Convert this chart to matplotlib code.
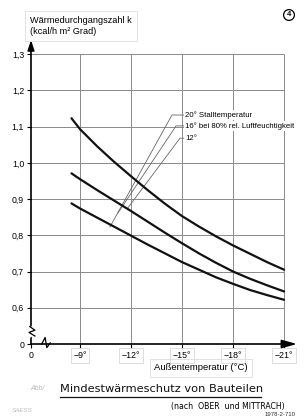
import matplotlib
matplotlib.use("Agg")
import matplotlib.pyplot as plt

# --------------------------------------------------
# Daten
# --------------------------------------------------
aussen_temp = [-8.5, -9, -10, -11, -12, -13, -14, -15, -16, -17, -18, -19, -20, -21]

# 12° Stalltemperatur (obere Kurve)
k_12 = [1.123, 1.093, 1.046, 1.003, 0.963, 0.924, 0.887, 0.853,
        0.824, 0.797, 0.772, 0.749, 0.726, 0.705]
# 16° bei 80 % rel. Luftfeuchtigkeit (mittlere Kurve)
k_16 = [0.971, 0.955, 0.925, 0.896, 0.867, 0.837, 0.807, 0.778,
        0.750, 0.724, 0.700, 0.680, 0.662, 0.645]
# 20° Stalltemperatur (untere Kurve)
k_20 = [0.888, 0.874, 0.849, 0.824, 0.799, 0.774, 0.750, 0.726,
        0.705, 0.684, 0.666, 0.649, 0.635, 0.622]

x_ticks = [-9, -12, -15, -18, -21]
x_labels = ["\u22129\u00b0", "\u221212\u00b0", "\u221215\u00b0", "\u221218\u00b0", "\u221221\u00b0"]
y_ticks = [0.6, 0.7, 0.8, 0.9, 1.0, 1.1, 1.2, 1.3]
y_labels = ["0,6", "0,7", "0,8", "0,9", "1,0", "1,1", "1,2", "1,3"]

# Achsenbruch: die "0" sitzt nicht maßstäblich
x_zero = -6.12
y_zero = 0.5

plt.rcParams["font.family"] = ["Liberation Sans", "DejaVu Sans"]

fig = plt.figure(figsize=(3.06, 4.2), dpi=100)
fig.patch.set_facecolor("white")
ax = fig.add_axes([31 / 306, 1 - 344 / 420, 266 / 306, 304 / 420])
ax.set_xlim(x_zero, -21.76)
ax.set_ylim(y_zero, 1.339)
for s in ax.spines.values():
    s.set_visible(False)

# Gitter
grid_c = "#8a8a8a"
ax.hlines(y_ticks, x_zero, -21, color=grid_c, lw=0.7, zorder=1)
ax.vlines(x_ticks, y_zero, 1.3, color=grid_c, lw=0.7, zorder=1)

# Kurven
for k in [k_12, k_16, k_20]:
    ax.plot(aussen_temp, k, color="#111111", lw=1.6, solid_capstyle="round", zorder=3)

# Achsen mit Pfeilen
ax.annotate("", xy=(0, 1), xytext=(0, 0), xycoords="axes fraction",
            arrowprops=dict(arrowstyle="-|>,head_length=0.6,head_width=0.2",
                            color="black", lw=1.2, shrinkA=0, shrinkB=0))
ax.annotate("", xy=(1, 0), xytext=(0, 0), xycoords="axes fraction",
            arrowprops=dict(arrowstyle="-|>,head_length=0.9,head_width=0.25",
                            color="black", lw=1.2, shrinkA=0, shrinkB=0))

# Bruchzeichen
ax.plot([-6.0, -6.3, -5.95, -6.25], [0.522, 0.530, 0.536, 0.545],
        color="white", lw=3, zorder=4, clip_on=False)
ax.plot([-6.35, -6.0, -6.35, -6.05], [0.522, 0.532, 0.538, 0.548],
        color="black", lw=0.9, zorder=5, clip_on=False)
ax.plot([-6.75, -6.95, -7.05, -7.25], [0.5, 0.518, 0.49, 0.503],
        color="black", lw=0.9, zorder=5, clip_on=False)

# Ticks
ax.set_yticks([y_zero] + y_ticks)
ax.set_yticklabels(["0"] + y_labels)
ax.set_xticks([x_zero] + x_ticks)
ax.set_xticklabels(["0"] + x_labels)
ax.tick_params(axis="both", length=3, width=0.8, labelsize=6.3, pad=2, colors="black")
for lab in ax.get_xticklabels()[1:]:
    lab.set_bbox(dict(boxstyle="square,pad=0.3", fc="none", ec="#d8d8d8", lw=0.6))

# Achsentitel
fig.text(30 / 306, 1 - 26 / 420, "Wärmedurchgangszahl k\n(kcal/h m² Grad)",
         fontsize=6.6, va="center", ha="left", linespacing=1.25,
         bbox=dict(boxstyle="square,pad=0.55", fc="none", ec="#dddddd", lw=0.6))
fig.text(201 / 306, 1 - 368 / 420, "Außentemperatur (°C)", fontsize=6.8,
         ha="center", va="center",
         bbox=dict(boxstyle="square,pad=0.45", fc="none", ec="#dddddd", lw=0.6))

# Beschriftung der Kurven mit Hinweislinien
leader_c = "#666666"
leaders = [
    ("20\u00b0 Stalltemperatur", 1.132, -14.41, (-10.76, 0.823)),
    ("16\u00b0 bei 80% rel. Luftfeuchtigkeit", 1.102, -14.65, (-11.24, 0.862)),
    ("12\u00b0", 1.068, -14.88, (-11.79, 0.874)),
]
for text, ly, lx, (ex, ey) in leaders:
    ax.plot([ex, lx, -15.1], [ey, ly, ly], color=leader_c, lw=0.6, zorder=2)
    ax.text(-15.2, ly, text, fontsize=5.6, ha="left", va="center",
            zorder=4, clip_on=False,
            bbox=dict(boxstyle="square,pad=0.15", fc="white", ec="none"))

# Titel
fig.text(60 / 306, 1 - 389 / 420, "Mindestwärmeschutz von Bauteilen",
         fontsize=8.2, ha="left", va="center", family="DejaVu Sans", color="#111111")
fig.add_artist(plt.Line2D([60 / 306, 261 / 306], [1 - 397 / 420, 1 - 397 / 420],
                          color="#111111", lw=0.9))
fig.text(285 / 306, 1 - 407 / 420, "(nach  OBER  und MITTRACH)", fontsize=5.6,
         ha="right", va="center", family="DejaVu Sans")
fig.text(296 / 306, 1 - 415 / 420, "1978-2-710", fontsize=4.3,
         ha="right", va="center", color="#333333")
fig.text(30 / 306, 1 - 389 / 420, "Abb/", fontsize=5, ha="left", va="center",
         color="#bbbbbb", style="italic")
fig.text(12 / 306, 1 - 410 / 420, "SAESS", fontsize=4.5, ha="left", va="center",
         color="#bbbbbb", style="italic")

# Kreis-Nummer
fig.text(289 / 306, 1 - 15 / 420, "4", fontsize=5.5, ha="center", va="center",
         fontweight="bold",
         bbox=dict(boxstyle="circle,pad=0.25", fc="none", ec="black", lw=0.9))

fig.savefig("out.png", dpi=100, facecolor="white")
